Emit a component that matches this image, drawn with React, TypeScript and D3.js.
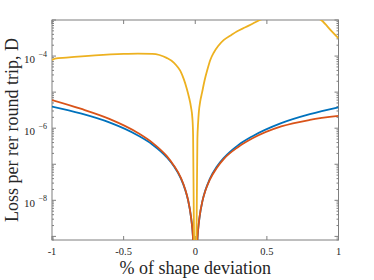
import React from "react";
import * as d3 from "d3";

// x positions (% of shape deviation) for blue & red series
const xBR = [-1, -0.8, -0.6, -0.4, -0.3, -0.2, -0.15, -0.1, -0.07, -0.05, -0.03, -0.02, -0.01, 0,
  0.01, 0.02, 0.03, 0.05, 0.07, 0.1, 0.15, 0.2, 0.3, 0.4, 0.6, 0.8, 1];
const blueVals = [3.98e-6, 2.57e-6, 1.45e-6, 6.3e-7, 3.55e-7, 1.58e-7, 8.9e-8, 3.98e-8, 1.95e-8, 1.0e-8, 3.55e-9, 1.58e-9, 4.0e-10, 1e-10,
  4.0e-10, 1.51e-9, 3.39e-9, 9.5e-9, 1.86e-8, 3.8e-8, 8.5e-8, 1.51e-7, 3.39e-7, 6.0e-7, 1.38e-6, 2.45e-6, 3.8e-6];
const redVals = [6.03e-6, 3.47e-6, 1.82e-6, 7.4e-7, 3.98e-7, 1.7e-7, 9.3e-8, 4.17e-8, 2.0e-8, 1.02e-8, 3.55e-9, 1.58e-9, 4.0e-10, 1e-10,
  4.0e-10, 1.55e-9, 3.47e-9, 9.5e-9, 1.82e-8, 3.63e-8, 7.9e-8, 1.41e-7, 3.02e-7, 5.25e-7, 1.12e-6, 1.7e-6, 2.19e-6];

// yellow series
const xY = [-1, -0.98, -0.9, -0.7, -0.5, -0.4, -0.3, -0.25, -0.2, -0.15, -0.12, -0.1, -0.08, -0.06, -0.045, -0.03, -0.02, -0.015, -0.01, 0,
  0.01, 0.015, 0.02, 0.025, 0.035, 0.047, 0.065, 0.084, 0.105, 0.13, 0.16, 0.2, 0.25, 0.29, 0.35, 0.4, 0.45, 0.5, 0.6, 0.7, 0.8, 0.85, 0.885, 0.95, 1];
const yellowVals = [7.76e-5, 8.5e-5, 9.1e-5, 1.05e-4, 1.15e-4, 1.17e-4, 1.15e-4, 1.07e-4, 8.9e-5, 6.6e-5, 4.8e-5, 3.6e-5, 2.3e-5, 1.29e-5, 7.6e-6, 3.9e-6, 1.9e-6, 6.3e-7, 3.2e-9, 1e-10,
  3.2e-9, 5.0e-7, 1.41e-6, 2.8e-6, 5.6e-6, 9.5e-6, 2.1e-5, 4.1e-5, 7.8e-5, 1.26e-4, 1.9e-4, 2.8e-4, 3.8e-4, 4.8e-4, 6.3e-4, 7.9e-4, 1.0e-3, 1.2e-3, 1.8e-3, 2.5e-3, 1.8e-3, 1.2e-3, 9.5e-4, 5.0e-4, 3.1e-4];

const xTicks = [-1, -0.5, 0, 0.5, 1];
const xTickLabels = ["-1", "-0.5", "0", "0.5", "1"];
const yLabelExps = [-4, -6, -8];

const W = 374, H = 280;
const L = 52, R = 338.5, T = 20, B = 240;
const FONT = "'Liberation Serif', 'Times New Roman', serif";

export default function App() {
  const x = d3.scaleLinear().domain([-1, 1]).range([L, R]);
  const y = d3.scaleLog().domain([Math.pow(10, -9.1), 1e-3]).range([B, T]);

  const line = d3.line<[number, number]>()
    .x(d => x(d[0]))
    .y(d => y(d[1]))
    .curve(d3.curveMonotoneX);

  const blue = line(xBR.map((v, i) => [v, blueVals[i]] as [number, number])) || "";
  const red = line(xBR.map((v, i) => [v, redVals[i]] as [number, number])) || "";
  const yellow = line(xY.map((v, i) => [v, yellowVals[i]] as [number, number])) || "";

  const [ymin, ymax] = y.domain();
  const majors: number[] = [];
  const minors: number[] = [];
  for (let e = -10; e <= -3; e++) {
    const base = Math.pow(10, e);
    if (base >= ymin * 0.999 && base <= ymax * 1.001) majors.push(base);
    for (let k = 2; k <= 9; k++) {
      const v = k * base;
      if (v >= ymin && v <= ymax) minors.push(v);
    }
  }

  const axisColor = "#7f7f7f";
  const textColor = "#262626";
  const majLen = 4, minLen = 2;

  return (
    <svg width={W} height={H} style={{ position: "absolute", left: 0, top: 0, background: "#fff" }}>
      <defs>
        <clipPath id="plotclip">
          <rect x={L} y={T} width={R - L} height={B - T} />
        </clipPath>
      </defs>
      <rect x={0} y={0} width={W} height={H} fill="#fff" />
      {/* box */}
      <rect x={L} y={T} width={R - L} height={B - T} fill="none" stroke={axisColor} strokeWidth={1} />
      {/* x ticks */}
      {xTicks.map((t, i) => (
        <g key={"xt" + i}>
          <line x1={x(t)} x2={x(t)} y1={B} y2={B - majLen} stroke={axisColor} />
          <line x1={x(t)} x2={x(t)} y1={T} y2={T + majLen} stroke={axisColor} />
          <text x={x(t)} y={B + 15} textAnchor="middle" fontFamily={FONT} fontSize={10.5} fill={textColor}>
            {xTickLabels[i]}
          </text>
        </g>
      ))}
      {/* y ticks */}
      {majors.map((v, i) => (
        <g key={"ym" + i}>
          <line x1={L} x2={L + majLen} y1={y(v)} y2={y(v)} stroke={axisColor} />
          <line x1={R} x2={R - majLen} y1={y(v)} y2={y(v)} stroke={axisColor} />
        </g>
      ))}
      {minors.map((v, i) => (
        <g key={"yn" + i}>
          <line x1={L} x2={L + minLen} y1={y(v)} y2={y(v)} stroke={axisColor} />
          <line x1={R} x2={R - minLen} y1={y(v)} y2={y(v)} stroke={axisColor} />
        </g>
      ))}
      {yLabelExps.map((e, i) => (
        <text key={"yl" + i} x={L - 5} y={y(Math.pow(10, e)) + 7} textAnchor="end" fontFamily={FONT} fontSize={11} fill={textColor}>
          10<tspan dx={3.5} dy={-6} fontSize={8}>{(e < 0 ? "\u2212" : "") + Math.abs(e)}</tspan>
        </text>
      ))}
      {/* lines */}
      <g clipPath="url(#plotclip)" fill="none" strokeWidth={1.8} strokeLinejoin="round">
        <path d={blue} stroke="#0072BD" />
        <path d={red} stroke="#D95319" />
        <path d={yellow} stroke="#EDB120" />
      </g>
      {/* axis labels */}
      <text x={(L + R) / 2} y={274} textAnchor="middle" fontFamily={FONT} fontSize={18} fill={textColor}>
        % of shape deviation
      </text>
      <text transform={`translate(${18},${(T + B) / 2}) rotate(-90)`} textAnchor="middle" fontFamily={FONT} fontSize={18} fill={textColor}>
        Loss per rer round trip, D
      </text>
    </svg>
  );
}
